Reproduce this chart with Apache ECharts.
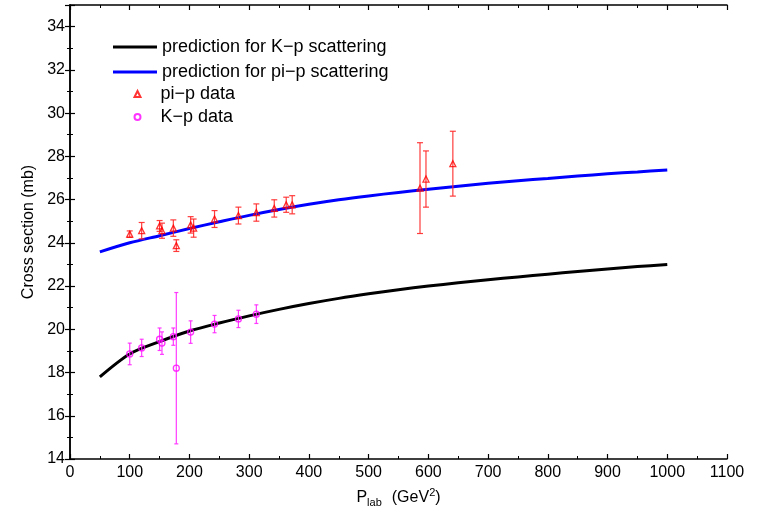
<!DOCTYPE html>
<html>
<head>
<meta charset="utf-8">
<script src="https://cdn.jsdelivr.net/npm/echarts@6/dist/echarts.min.js"></script>
<style>
html,body{margin:0;padding:0;background:#fff;}
#chart{width:769px;height:516px;}
</style>
</head>
<body>
<div id="chart"></div>
<script>
// Curves (predictions)
var curveX = [50,100,150,200,250,300,350,400,450,500,550,600,650,700,750,800,850,900,950,1000];
var kpCurve = [17.80,18.86,19.43,19.92,20.29,20.62,20.92,21.19,21.43,21.64,21.83,22.00,22.15,22.29,22.42,22.55,22.67,22.79,22.90,23.00];
var pipCurve = [23.58,24.00,24.33,24.66,24.97,25.27,25.54,25.78,25.99,26.17,26.33,26.48,26.62,26.75,26.87,26.98,27.09,27.19,27.28,27.37];

// pi-p data
var piX = [100,120,150,154,173,178,202,207,242,282,312,342,362,372,586,596,641];
var piY = [24.40,24.56,24.78,24.56,24.68,23.87,24.83,24.68,25.10,25.26,25.40,25.59,25.76,25.76,26.53,26.95,27.66];
var piErr = [0.15,0.38,0.25,0.35,0.38,0.27,0.38,0.42,0.39,0.39,0.40,0.40,0.35,0.42,2.10,1.30,1.50];

// K-p data
var kX = [100,120,150,154,173,178,202,242,282,312];
var kY = [18.86,19.14,19.54,19.36,19.66,18.20,19.87,20.24,20.48,20.70];
var kErr = [0.50,0.40,0.52,0.52,0.40,3.50,0.52,0.40,0.40,0.43];

var xTicks = [0,100,200,300,400,500,600,700,800,900,1000,1100];
var yTicks = [14,16,18,20,22,24,26,28,30,32,34];

var names = ['prediction for K\u2212p scattering','prediction for pi\u2212p scattering','pi\u2212p data','K\u2212p data'];

function zip2(a,b){return a.map(function(v,i){return [v,b[i]];});}
function zip3(a,b,c){return a.map(function(v,i){return [v,b[i],c[i]];});}

function errRender(color, half){
  return function(params, api){
    var x = api.value(0), y = api.value(1), e = api.value(2);
    var t = api.coord([x, y+e]), b = api.coord([x, y-e]);
    var st = {stroke: color, lineWidth: 1.2};
    return {type:'group', children:[
      {type:'line', shape:{x1:t[0],y1:t[1],x2:b[0],y2:b[1]}, style:st},
      {type:'line', shape:{x1:t[0]-half,y1:t[1],x2:t[0]+half,y2:t[1]}, style:st},
      {type:'line', shape:{x1:b[0]-half,y1:b[1],x2:b[0]+half,y2:b[1]}, style:st}
    ]};
  };
}

var FONT = 'Liberation Sans, Arial, sans-serif';
var chart = echarts.init(document.getElementById('chart'));
var option = {
  animation: false,
  backgroundColor: '#fff',
  grid: {left:70, right:42, top:5, bottom:57},
  legend: [{
    data: [{name:names[0], icon:'rect'}, {name:names[1], icon:'rect'}],
    orient: 'vertical', left: 108, top: 33,
    itemWidth: 44, itemHeight: 3, itemGap: 7,
    textStyle: {fontFamily: FONT, fontSize: 18, color:'#000', padding:[0,0,0,0]}
  },{
    data: [names[2], names[3]],
    orient: 'vertical', left: 128.5, top: 80,
    itemWidth: 6, itemHeight: 6, itemGap: 5,
    textStyle: {fontFamily: FONT, fontSize: 18, color:'#000', padding:[0,0,0,15]}
  }],
  xAxis: [{
    type:'value', min:0, max:1100, interval:100, position:'bottom',
    name: '{p|P}{sub|lab}   {t|(GeV}{sup|2}{t|)}',
    nameLocation:'middle', nameGap: 28,
    nameTextStyle: {fontFamily: FONT, color:'#000', rich:{
      p:{fontSize:16, fontFamily:FONT},
      sub:{fontSize:11, fontFamily:FONT, verticalAlign:'bottom', padding:[10,0,0,0]},
      t:{fontSize:16, fontFamily:FONT},
      sup:{fontSize:11, fontFamily:FONT, verticalAlign:'top', padding:[0,0,8,0]}
    }},
    axisLine:{lineStyle:{color:'#000', width:1.5}},
    axisTick:{inside:true, length:5, lineStyle:{color:'#000', width:1.2}},
    minorTick:{show:true, splitNumber:2, length:3, lineStyle:{color:'#000'}},
    splitLine:{show:false},
    axisLabel:{fontFamily:FONT, fontSize:16, color:'#000', margin:6,
      formatter:function(v){return xTicks.indexOf(v)>=0 ? String(v) : '';}}
  },{
    type:'value', min:0, max:1100, interval:100, position:'top',
    axisLine:{lineStyle:{color:'#000', width:1.5}},
    axisTick:{inside:true, length:5, lineStyle:{color:'#000', width:1.2}},
    minorTick:{show:true, splitNumber:2, length:3, lineStyle:{color:'#000'}},
    splitLine:{show:false},
    axisLabel:{show:false}
  }],
  yAxis: [{
    type:'value', min:14, max:35, interval:2, position:'left',
    name:'Cross section (mb)', nameLocation:'middle', nameGap:33,
    nameTextStyle:{fontFamily:FONT, fontSize:16, color:'#000'},
    axisLine:{lineStyle:{color:'#000', width:1.5}},
    axisTick:{inside:true, length:5, lineStyle:{color:'#000', width:1.2}},
    minorTick:{show:true, splitNumber:2, length:3, lineStyle:{color:'#000'}},
    splitLine:{show:false},
    axisLabel:{fontFamily:FONT, fontSize:16, color:'#000', margin:5,
      formatter:function(v){return yTicks.indexOf(v)>=0 ? String(v) : '';}}
  },{
    type:'value', min:14, max:35, interval:2, position:'right',
    axisLine:{lineStyle:{color:'#000', width:1.5}},
    axisTick:{inside:true, length:5, lineStyle:{color:'#000', width:1.2}},
    minorTick:{show:true, splitNumber:2, length:3, lineStyle:{color:'#000'}},
    splitLine:{show:false},
    axisLabel:{show:false}
  }],
  series: [
    {name:names[0], type:'line', data:zip2(curveX,kpCurve), smooth:0.3,
      symbol:'none', lineStyle:{color:'#000', width:3}, itemStyle:{color:'#000'}, z:3},
    {name:names[1], type:'line', data:zip2(curveX,pipCurve), smooth:0.3,
      symbol:'none', lineStyle:{color:'#0000ff', width:3}, itemStyle:{color:'#0000ff'}, z:3},
    {name:'piErr', type:'custom', data:zip3(piX,piY,piErr), encode:{x:0,y:1},
      renderItem: errRender('rgba(255,40,40,0.9)', 3), z:4},
    {name:'kErr', type:'custom', data:zip3(kX,kY,kErr), encode:{x:0,y:1},
      renderItem: errRender('rgba(255,40,255,0.9)', 2), z:4},
    {name:names[2], type:'scatter', data:zip2(piX,piY), symbol:'triangle', symbolSize:6,
      itemStyle:{color:'rgba(255,255,255,0)', borderColor:'#ff0000', borderWidth:1.3}, z:5},
    {name:names[3], type:'scatter', data:zip2(kX,kY), symbol:'circle', symbolSize:6,
      itemStyle:{color:'rgba(255,255,255,0)', borderColor:'#ff00ff', borderWidth:1.3}, z:5}
  ]
};
chart.setOption(option);
</script>
</body>
</html>
